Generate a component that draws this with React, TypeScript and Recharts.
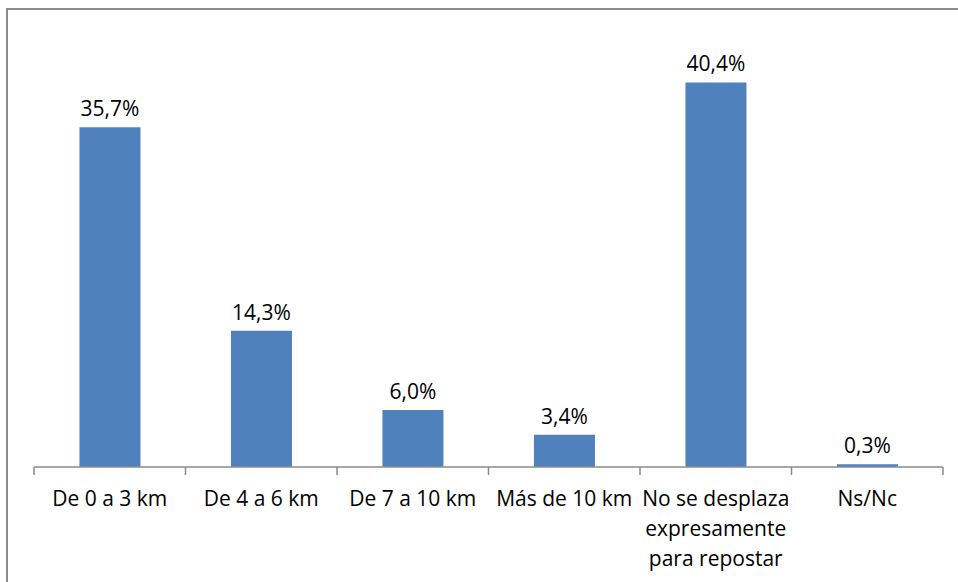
import React from "react";
import { BarChart, Bar, XAxis, YAxis, LabelList } from "recharts";

// Distance travelled to refuel
const categories = [
  "De 0 a 3 km",
  "De 4 a 6 km",
  "De 7 a 10 km",
  "Más de 10 km",
  "No se desplaza expresamente para repostar",
  "Ns/Nc",
];
const values = [35.7, 14.3, 6.0, 3.4, 40.4, 0.3];
const tickLines: Record<string, string[]> = {
  "No se desplaza expresamente para repostar": ["No se desplaza", "expresamente", "para repostar"],
};

const data = categories.map((c, i) => ({ name: c, value: values[i] }));

const FONT = "'Open Sans', sans-serif";
const AXIS = "#8b8b8b";
const TICK_SIZE = 8;
const TICK_MARGIN = 16;

const fmt = (v: number) => v.toFixed(1).replace(".", ",") + "%";

// label plus boundary tick marks (Excel puts ticks between categories)
const CategoryTick = (props: any) => {
  const { x, y, payload, index, visibleTicksCount } = props;
  const half = payload.offset || 75.75;
  const axisY = y - TICK_SIZE - TICK_MARGIN;
  const lines = tickLines[payload.value] || [payload.value];
  const last = index === (visibleTicksCount ?? categories.length) - 1;
  return (
    <g>
      <line x1={x - half} x2={x - half} y1={axisY} y2={axisY + TICK_SIZE} stroke={AXIS} strokeWidth={1.5} />
      {last && (
        <line x1={x + half} x2={x + half} y1={axisY} y2={axisY + TICK_SIZE} stroke={AXIS} strokeWidth={1.5} />
      )}
      <text x={x} y={y} textAnchor="middle" fontFamily={FONT} fontSize={21} fill="#000">
        {lines.map((l: string, i: number) => (
          <tspan key={i} x={x} dy={i === 0 ? 15 : 30}>
            {l}
          </tspan>
        ))}
      </text>
    </g>
  );
};

export default function App() {
  return (
    <div style={{ position: "absolute", left: 0, top: 0, width: 958, height: 582, background: "#fff", overflow: "hidden" }}>
      <div
        style={{
          position: "absolute",
          left: 6,
          top: 8,
          width: 1000,
          height: 700,
          borderLeft: "2px solid #8c8c8c",
          borderTop: "2px solid #8c8c8c",
        }}
      />
      <div style={{ position: "absolute", left: 0, top: 0 }}>
        <BarChart
          width={958}
          height={582}
          data={data}
          barCategoryGap="30%"
          margin={{ top: 38.6, right: 15, left: 34, bottom: 0 }}
        >
          <XAxis
            dataKey="name"
            interval={0}
            tickLine={false}
            axisLine={{ stroke: AXIS, strokeWidth: 1.5 }}
            tickSize={TICK_SIZE}
            tickMargin={TICK_MARGIN}
            height={115}
            tick={<CategoryTick />}
          />
          <YAxis hide domain={[0, 45]} />
          <Bar dataKey="value" fill="#4F81BD" isAnimationActive={false}>
            <LabelList
              dataKey="value"
              position="top"
              offset={11}
              formatter={(v: any) => fmt(Number(v))}
              style={{ fontFamily: FONT, fontSize: 21, fill: "#000" }}
            />
          </Bar>
        </BarChart>
      </div>
    </div>
  );
}
